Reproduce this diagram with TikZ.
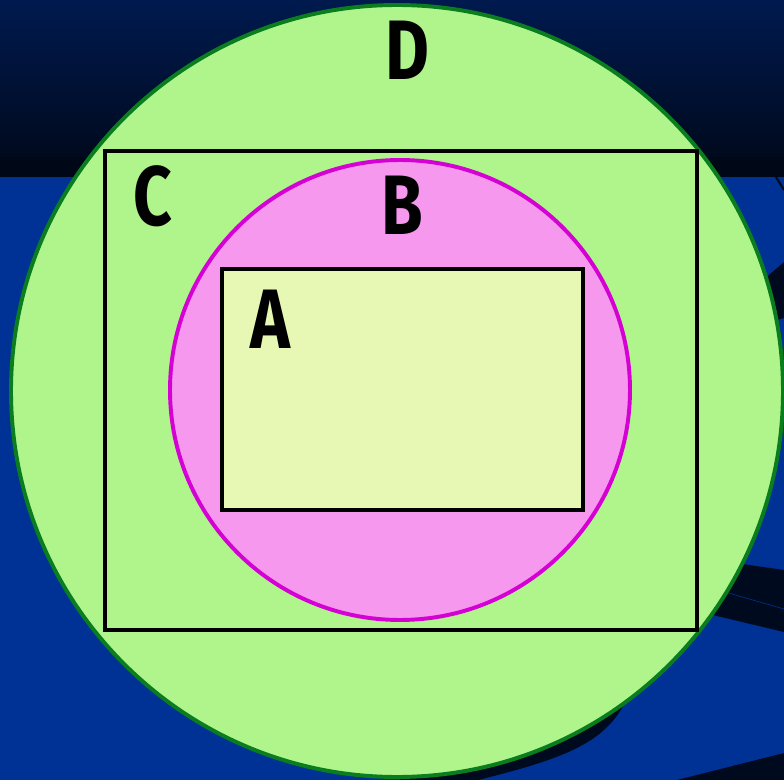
\documentclass[tikz,border=0pt]{standalone}
\usepackage{fontspec}
\setsansfont{Fira Sans}
\usepackage{xcolor}
\usepackage{tikz}
\usetikzlibrary{positioning}
\definecolor{bgnavy}{HTML}{001A4F}
\definecolor{bgdark}{HTML}{000A1E}
\definecolor{bgstrip}{HTML}{000716}
\definecolor{bgblue}{HTML}{003296}
\definecolor{greenfill}{HTML}{B0F58C}
\definecolor{greenline}{HTML}{0A7D1E}
\definecolor{pinkfill}{HTML}{F598EE}
\definecolor{pinkline}{HTML}{D400D4}
\definecolor{yellowfill}{HTML}{E6F8B4}

\begin{document}
\begin{tikzpicture}[x=0.025cm, y=-0.025cm,
  swoosh/.style={fill=bgdark},
  outerset/.style={fill=greenfill, draw=greenline, line width=2.8pt},
  boxset/.style={draw=black, line width=3.2pt},
  innerset/.style={fill=pinkfill, draw=pinkline, line width=2.8pt},
  coreset/.style={boxset, fill=yellowfill},
  setname/.style={font=\sffamily\bfseries\fontsize{60}{60}\selectfont,
    xscale=0.8, inner sep=0pt, text=black},
]
  \useasboundingbox (0,0) rectangle (784,780);

  % Background
  \shade[top color=bgnavy, bottom color=bgdark] (0,0) rectangle (784,157);
  \fill[bgstrip] (0,157) rectangle (784,177);
  \fill[bgblue] (0,177) rectangle (784,780);

  % Dark swooshes behind the circle
  \draw[bgdark, line width=1.5pt] (776,177) -- (784,190);
  \fill[swoosh] (740,300) -- (784,262) -- (784,318) -- (740,330) -- cycle;
  \fill[swoosh] (700,558) -- (784,570) -- (784,632) -- (700,612) -- cycle;
  \draw[bgblue, line width=0.4pt] (725,592) -- (784,609);
  \fill[swoosh] (630,690) -- (622,708) .. controls (600,745) and (560,760)
    .. (470,782) -- (400,782) -- (400,690) -- cycle;
  \fill[swoosh] (784,753) -- (677,780) -- (784,780) -- cycle;

  % Set D
  \draw[outerset] (397,391) circle (386);
  % Set C
  \draw[boxset] (105,151) rectangle (697,630);
  % Set B
  \draw[innerset] (400,390) circle (230);
  % Set A
  \draw[coreset] (222,269) rectangle (583,510);

  % Labels
  \node[setname] (labD) at (407,50) {D};
  \node[setname] (labC) at (153,196) {C};
  \node[setname] (labB) at (402,205) {B};
  \node[setname] (labA) at (270,319) {A};
\end{tikzpicture}
\end{document}
